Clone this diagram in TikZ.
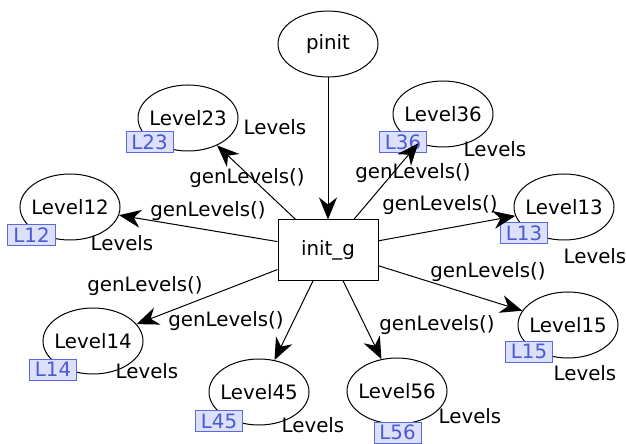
\documentclass[tikz,border=0pt]{standalone}
\usepackage{fontspec}
\setmainfont{DejaVu Sans}
\usetikzlibrary{arrows.meta,shapes.geometric}
\definecolor{tagfill}{HTML}{DDE0FA}
\definecolor{tagdraw}{HTML}{5A6ADC}
\definecolor{tagtext}{HTML}{4A5AD0}
\begin{document}
\begin{tikzpicture}[x=1bp,y=-1bp,
  every node/.style={font=\fontsize{19.8bp}{23bp}\selectfont},
  lvl/.style={draw,ellipse,minimum width=100bp,minimum height=66bp,inner xsep=-15bp,inner ysep=0pt,line width=1bp},
  box/.style={draw,rectangle,minimum width=100bp,minimum height=60bp,inner sep=0pt,line width=1bp},
  tag/.style={draw=tagdraw,fill=tagfill,text=tagtext,rectangle,minimum width=47bp,minimum height=21bp,inner sep=0pt,line width=1bp},
  lab/.style={inner sep=0pt},
  conn/.style={-{Stealth[length=22bp,width=18bp,inset=7bp]},line width=1bp}
]
\useasboundingbox (0,0) rectangle (626,444);
\node[lvl] (pinit) at (328,44) {pinit};
\node[box] (g) at (328,250) {init\_g};
\node[lvl] (l23) at (188,118) {Level23};
\node[lvl] (l12) at (70,207) {Level12};
\node[lvl] (l36) at (443,114) {Level36};
\node[lvl] (l13) at (564,207) {Level13};
\node[lvl] (l14) at (93,341) {Level14};
\node[lvl] (l45) at (259,392) {Level45};
\node[lvl] (l56) at (397,391) {Level56};
\node[lvl] (l15) at (568,325) {Level15};
% tags
\node[tag] (t23) at (149.5,142) {L23};
\node[tag] (t12) at (31.5,235.5) {L12};
\node[tag] (t36) at (403,142.5) {L36};
\node[tag] (t13) at (524,233.5) {L13};
\node[tag] (t14) at (53,369.5) {L14};
\node[tag] (t45) at (219,421) {L45};
\node[tag] (t56) at (397.5,432.5) {L56};
\node[tag] (t15) at (529,351.5) {L15};
% Levels labels
\node[lab] (v23) at (275,127) {Levels};
\node[lab] (v12) at (122,243) {Levels};
\node[lab] (v36) at (495,149) {Levels};
\node[lab] (v13) at (595,256) {Levels};
\node[lab] (v14) at (147,371) {Levels};
\node[lab] (v45) at (313,425) {Levels};
\node[lab] (v56) at (470,416) {Levels};
\node[lab] (v15) at (585,373) {Levels};
% edges
\draw[conn] (pinit) -- (g);
\draw[conn] (g) -- (l23);
\draw[conn] (g) -- (l12);
\draw[conn] (g) -- (l36);
\draw[conn] (g) -- (l13);
\draw[conn] (g) -- (l14);
\draw[conn] (g) -- (l45);
\draw[conn] (g) -- (l56);
\draw[conn] (g) -- (l15);
% edge labels
\node[lab] (e23) at (247,178) {genLevels()};
\node[lab] (e36) at (413,173) {genLevels()};
\node[lab] (e12) at (208,211) {genLevels()};
\node[lab] (e13) at (440,205) {genLevels()};
\node[lab] (e14) at (145,286) {genLevels()};
\node[lab] (e15) at (488,272) {genLevels()};
\node[lab] (e45) at (226,321) {genLevels()};
\node[lab] (e56) at (437,325) {genLevels()};
\end{tikzpicture}
\end{document}
